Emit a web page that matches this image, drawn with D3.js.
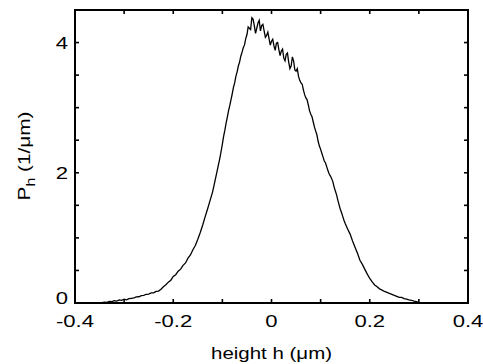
<!DOCTYPE html>
<html><head><meta charset="utf-8">
<script src="https://cdn.jsdelivr.net/npm/d3@7"></script>
<style>body{margin:0;background:#fff}svg{display:block}text{font-family:"Liberation Sans",Arial,sans-serif;fill:#000}</style>
</head><body><svg id="c" width="483" height="364"></svg>
<script>
const heights = [-0.350,-0.345,-0.340,-0.335,-0.330,-0.325,-0.320,-0.315,-0.310,-0.305,-0.300,-0.295,-0.290,-0.285,-0.280,-0.275,-0.270,-0.265,-0.260,-0.255,-0.250,-0.245,-0.240,-0.235,-0.230,-0.225,-0.220,-0.215,-0.210,-0.205,-0.200,-0.195,-0.190,-0.185,-0.180,-0.175,-0.170,-0.165,-0.160,-0.155,-0.150,-0.145,-0.140,-0.135,-0.130,-0.125,-0.120,-0.115,-0.110,-0.105,
 -0.1000,-0.0975,-0.0950,-0.0925,-0.0900,-0.0875,-0.0850,-0.0825,-0.0800,-0.0775,-0.0750,-0.0725,-0.0700,-0.0675,-0.0650,-0.0625,-0.0600,-0.0575,-0.0550,-0.0525,-0.0500,-0.0475,-0.0450,-0.0425,-0.0400,-0.0375,-0.0350,-0.0325,-0.0300,-0.0275,-0.0250,-0.0225,-0.0200,-0.0175,-0.0150,-0.0125,-0.0100,-0.0075,-0.0050,-0.0025,
 0.0000,0.0025,0.0050,0.0075,0.0100,0.0125,0.0150,0.0175,0.0200,0.0225,0.0250,0.0275,0.0300,0.0325,0.0350,0.0375,0.0400,0.0425,0.0450,0.0475,0.0500,0.0525,0.0550,0.0575,0.0600,0.0625,0.0650,0.0675,0.0700,0.0725,0.0750,0.0775,0.0800,0.0825,0.0850,0.0875,0.0900,0.0925,0.0950,0.0975,
 0.1000,0.1025,0.1050,0.1075,0.1100,0.1125,0.1150,0.1175,0.1200,0.1225,0.1250,0.1275,0.1300,0.1325,0.1350,0.1375,0.1400,0.1425,0.1450,0.1475,
 0.150,0.155,0.160,0.165,0.170,0.175,0.180,0.185,0.190,0.195,0.200,0.205,0.210,0.215,0.220,0.225,0.230,0.235,0.240,0.245,0.250,0.255,0.260,0.265,0.270,0.275,0.280,0.285,0.290,0.295,0.300];
const density = [0.000,0.006,0.014,0.010,0.024,0.022,0.037,0.030,0.047,0.040,0.058,0.048,0.066,0.072,0.078,0.094,0.096,0.114,0.116,0.134,0.136,0.154,0.156,0.177,0.183,0.212,0.250,0.280,0.320,0.350,0.408,0.435,0.488,0.520,0.578,0.615,0.688,0.737,0.818,0.882,0.978,1.082,1.198,1.327,1.448,1.577,1.703,1.877,2.053,2.227,
 2.440,2.560,2.650,2.760,2.850,2.950,3.030,3.120,3.210,3.310,3.380,3.480,3.550,3.640,3.700,3.790,3.850,3.920,3.960,4.060,4.120,4.240,4.220,4.200,4.380,4.360,4.260,4.140,4.220,4.300,4.340,4.180,4.260,4.280,4.180,4.080,4.110,4.160,4.060,3.960,
 4.020,4.050,3.950,3.880,3.990,4.000,3.890,3.800,3.870,3.900,3.760,3.720,3.820,3.840,3.700,3.600,3.640,3.780,3.720,3.580,3.560,3.600,3.480,3.420,3.380,3.360,3.270,3.200,3.150,3.120,3.040,2.950,2.900,2.860,2.780,2.700,2.640,2.580,2.480,2.410,
 2.360,2.300,2.240,2.180,2.150,2.090,2.030,1.980,1.950,1.910,1.860,1.780,1.720,1.660,1.580,1.510,1.440,1.390,1.330,1.270,
 1.220,1.135,1.058,0.953,0.857,0.763,0.657,0.593,0.517,0.443,0.377,0.323,0.277,0.248,0.217,0.198,0.177,0.163,0.147,0.133,0.117,0.103,0.087,0.085,0.067,0.060,0.047,0.042,0.028,0.020,0.005];
const xTicks = [-0.4,-0.3,-0.2,-0.1,0,0.1,0.2,0.3,0.4];
const xLabels = ["-0.4","-0.2","0","0.2","0.4"];
const yTicks = [0,0.5,1,1.5,2,2.5,3,3.5,4,4.5];
const yLabels = ["0","2","4"];

const svg = d3.select("#c");
const L=75,R=468,T=10,B=303;
const x = d3.scaleLinear().domain([-0.4,0.4]).range([L,R]);
const y = d3.scaleLinear().domain([0,4.5]).range([B,T]);

const data = heights.map((h,i)=>[h,density[i]]);
svg.append("path").datum(data).attr("fill","none").attr("stroke","#000").attr("stroke-width",1.3)
  .attr("d", d3.line().x(d=>x(d[0])).y(d=>y(d[1])));

const tl=4;
const g = svg.append("g").attr("stroke","#000").attr("stroke-width",1.6);
g.selectAll(".xb").data(xTicks).join("line").attr("x1",d=>x(d)).attr("x2",d=>x(d)).attr("y1",B).attr("y2",B-tl);
g.selectAll(".xt").data(xTicks).join("line").attr("x1",d=>x(d)).attr("x2",d=>x(d)).attr("y1",T).attr("y2",T+tl);
g.selectAll(".yl").data(yTicks).join("line").attr("x1",L).attr("x2",L+tl).attr("y1",d=>y(d)).attr("y2",d=>y(d));
g.selectAll(".yr").data(yTicks).join("line").attr("x1",R).attr("x2",R-tl).attr("y1",d=>y(d)).attr("y2",d=>y(d));
svg.append("rect").attr("x",L).attr("y",T).attr("width",R-L).attr("height",B-T).attr("fill","none").attr("stroke","#000").attr("stroke-width",2);

const sx = 1.3;
svg.selectAll(".xlab").data(xLabels).join("text")
  .attr("transform",d=>`translate(${x(+d)},326.5) scale(${sx},1)`)
  .attr("text-anchor","middle").attr("font-size",17).text(d=>d);
svg.selectAll(".ylab").data(yLabels).join("text")
  .attr("transform",d=>`translate(68,${+d===0? y(+d)+1 : y(+d)+6.5}) scale(${sx},1)`)
  .attr("text-anchor","end").attr("font-size",17).text(d=>d);

svg.append("text").attr("x",x(0)).attr("y",359).attr("text-anchor","middle").attr("font-size",17)
  .attr("textLength",121).attr("lengthAdjust","spacingAndGlyphs").text("height h (\u03bcm)");
const yl = svg.append("text").attr("transform","translate(29.5,156) rotate(-90)").attr("text-anchor","middle").attr("font-size",17)
  .attr("textLength",89).attr("lengthAdjust","spacingAndGlyphs");
yl.append("tspan").text("P");
yl.append("tspan").attr("font-size",13).attr("dy",5).text("h");
yl.append("tspan").attr("dy",-5).text(" (1/\u03bcm)");
</script></body></html>
